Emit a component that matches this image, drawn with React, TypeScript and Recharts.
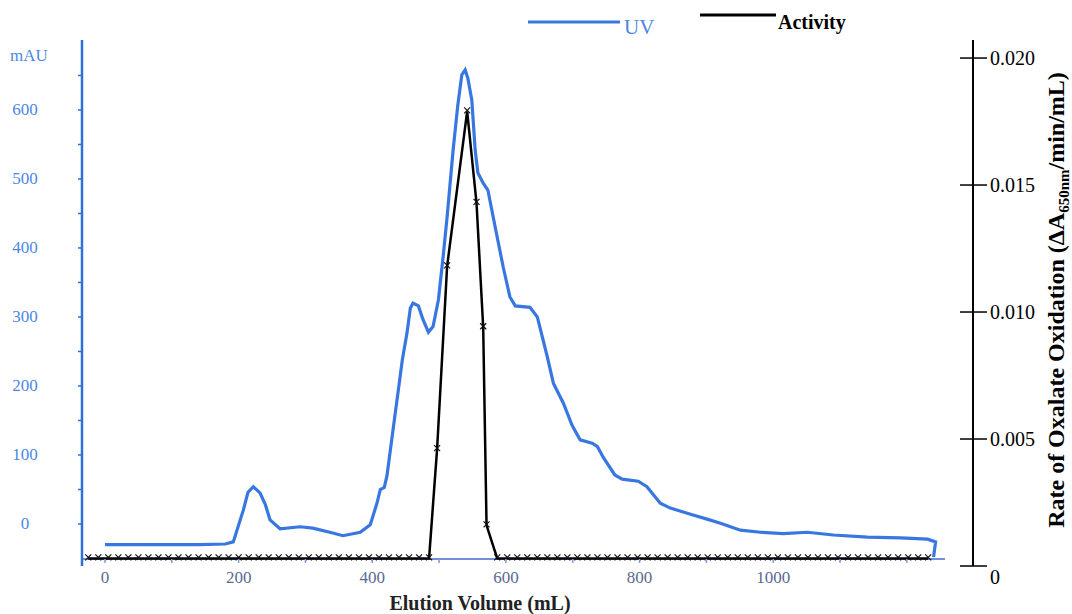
import React from "react";
import {
  ComposedChart, Line, XAxis, YAxis, ReferenceLine,
} from "recharts";

// UV trace (mAU), by elution volume (mL)
const uvVolume = [
  0, 67, 142, 180, 192, 207, 214, 222, 232, 240, 247, 262, 292, 311, 341, 356,
  382, 397, 407, 412, 418, 422, 431, 439, 445, 452, 457, 461, 469, 476, 484,
  491, 499, 506, 512, 521, 528, 534, 539, 543, 549, 554, 558, 566, 573, 584,
  596, 606, 614, 636, 647, 662, 671, 686, 699, 711, 729, 737, 746, 763, 774,
  798, 811, 831, 846, 880, 901, 921, 951, 981, 1015, 1051, 1090, 1141, 1190,
  1231, 1243, 1240,
];
const uvAbs = [
  -30, -30, -30, -29, -26, 20, 46, 54, 45, 28, 6, -7, -4, -6, -13, -17,
  -12, -1, 30, 50, 53, 70, 136, 194, 238, 277, 313, 320, 316, 296, 278,
  286, 325, 387, 445, 542, 607, 651, 658, 646, 614, 542, 509, 494, 484, 430,
  372, 329, 316, 314, 300, 242, 204, 175, 143, 122, 117, 112, 96, 71, 65,
  62, 54, 30, 23, 13, 7, 1, -9, -12, -14, -12, -16, -19, -20,
  -22, -26, -48,
];

// activity per fraction (dA650/min/mL)
const leftBaseFractions = [
  -25, -10, 5, 20, 35, 50, 65, 80, 95, 110, 125, 140, 155, 170, 185, 200, 215,
  230, 245, 260, 275, 290, 305, 320, 335, 350, 365, 380, 395, 410, 425, 440,
  455, 470, 485,
];
const peakFractions = [497, 512, 542, 556, 566, 571];
const peakRates = [0.0046, 0.0118, 0.0179, 0.0143, 0.0094, 0.0016];
const rightBaseFractions = [
  587, 602, 617, 632, 647, 662, 677, 692, 707, 722, 737, 752, 767, 782, 797,
  812, 827, 842, 857, 872, 887, 902, 917, 932, 947, 962, 977, 992, 1007, 1022,
  1037, 1052, 1067, 1082, 1097, 1112, 1127, 1142, 1157, 1172, 1187, 1202,
  1217, 1232,
];
const baseRate = 0.0003;

const xTicks = [0, 100, 200, 300, 400, 500, 600, 700, 800, 900, 1000, 1100, 1200];
const leftTicks = [0, 50, 100, 150, 200, 250, 300, 350, 400, 450, 500, 550, 600, 650];
const rightTicks = [0, 0.005, 0.01, 0.015, 0.02];

const uvData = uvVolume.map((v, i) => ({ v, uv: uvAbs[i] }));
const actData = [
  ...leftBaseFractions.map((v) => ({ v, act: baseRate })),
  ...peakFractions.map((v, i) => ({ v, act: peakRates[i] })),
  ...rightBaseFractions.map((v) => ({ v, act: baseRate })),
];

const BLUE = "#3877e0";
const SERIF = "'Liberation Serif', 'Times New Roman', serif";

function LeftTick(props: any) {
  const { y, payload } = props;
  if (payload.value % 100 !== 0) return null;
  return (
    <text x={25} y={y + 5} textAnchor="middle" fontFamily={SERIF} fontSize={17} fill="#4d87e2">
      {payload.value}
    </text>
  );
}

function BottomTick(props: any) {
  const { x, y, payload } = props;
  return (
    <g>
      <line x1={x} x2={x} y1={y - 7} y2={y - 3} stroke="#7f9bd8" strokeWidth={1.5} />
      {payload.value % 200 === 0 && payload.value <= 1000 && (
        <text x={x} y={y + 17} textAnchor="middle" fontFamily={SERIF} fontSize={17} fill="#5a6a92">
          {payload.value}
        </text>
      )}
    </g>
  );
}

function RightTick(props: any) {
  const { x, y, payload } = props;
  const label = payload.value === 0 ? "0" : payload.value.toFixed(3);
  return (
    <g>
      <line x1={x - 13} x2={x + 14} y1={y} y2={y} stroke="#000" strokeWidth={1.5} />
      <text x={x + 17} y={payload.value === 0 ? y + 18 : y + 7} fontFamily={SERIF} fontSize={20} fill="#000">
        {label}
      </text>
    </g>
  );
}

function XMark(props: any) {
  const { cx, cy } = props;
  if (cx == null || cy == null) return null;
  return (
    <g key={`m-${cx}`}>
      <line x1={cx - 3} y1={cy - 4} x2={cx + 3} y2={cy + 2} stroke="#111" strokeWidth={1.2} />
      <line x1={cx + 3} y1={cy - 4} x2={cx - 3} y2={cy + 2} stroke="#111" strokeWidth={1.2} />
    </g>
  );
}

export default function App() {
  return (
    <div style={{ position: "absolute", left: 0, top: 0, width: 1072, height: 614, background: "#fff" }}>
      <ComposedChart width={1072} height={614} margin={{ top: 40, right: 0, bottom: 0, left: 0 }}>
        <XAxis
          type="number"
          dataKey="v"
          domain={[-34.4, 1299]}
          allowDataOverflow
          ticks={xTicks}
          axisLine={false}
          tickLine={false}
          tickSize={0}
          tickMargin={0}
          height={48}
          tick={<BottomTick />}
        />
        <YAxis
          yAxisId="left"
          domain={[-60.9, 701.4]}
          allowDataOverflow
          ticks={leftTicks}
          width={82}
          axisLine={{ stroke: "#2f6fd8", strokeWidth: 2.5 }}
          tickLine={{ stroke: "#2f6fd8", strokeWidth: 1.5 }}
          tickSize={4}
          tick={<LeftTick />}
        />
        <YAxis
          yAxisId="right"
          orientation="right"
          domain={[0, 0.02071]}
          allowDataOverflow
          ticks={rightTicks}
          width={99}
          axisLine={{ stroke: "#000", strokeWidth: 2 }}
          tickLine={false}
          tickSize={0}
          tickMargin={0}
          tick={<RightTick />}
        />
        <ReferenceLine
          yAxisId="left"
          segment={[{ x: -34.4, y: -50.7 }, { x: 1257, y: -50.7 }]}
          stroke="#6f8fd6"
          strokeWidth={2}
        />
        <Line
          yAxisId="left"
          data={uvData}
          dataKey="uv"
          type="linear"
          stroke={BLUE}
          strokeWidth={3.2}
          dot={false}
          isAnimationActive={false}
        />
        <Line
          yAxisId="right"
          data={actData}
          dataKey="act"
          type="linear"
          stroke="#000"
          strokeWidth={2.5}
          dot={<XMark />}
          isAnimationActive={false}
        />
      </ComposedChart>
      <svg
        width={1072}
        height={614}
        style={{ position: "absolute", left: 0, top: 0, pointerEvents: "none" }}
      >
        <text x={10} y={61} fontFamily={SERIF} fontSize={17} fill="#4d87e2">mAU</text>
        <line x1={528} x2={620} y1={22} y2={22} stroke={BLUE} strokeWidth={3} />
        <text x={624} y={34} fontFamily={SERIF} fontSize={21} fill="#4d87e2">UV</text>
        <line x1={700} x2={776} y1={15} y2={15} stroke="#000" strokeWidth={3} />
        <text x={778} y={29} fontFamily={SERIF} fontSize={20} fontWeight="bold" fill="#000">Activity</text>
        <text x={480} y={610} textAnchor="middle" fontFamily={SERIF} fontSize={20} fontWeight="bold" fill="#222">
          Elution Volume (mL)
        </text>
        <text
          transform="translate(1064, 300) rotate(-90)"
          textAnchor="middle"
          fontFamily={SERIF}
          fontSize={24}
          fontWeight="bold"
          fill="#000"
        >
          Rate of Oxalate Oxidation (ΔA
          <tspan fontSize={15} dy={5}>650nm</tspan>
          <tspan dy={-5}>/min/mL)</tspan>
        </text>
      </svg>
    </div>
  );
}
